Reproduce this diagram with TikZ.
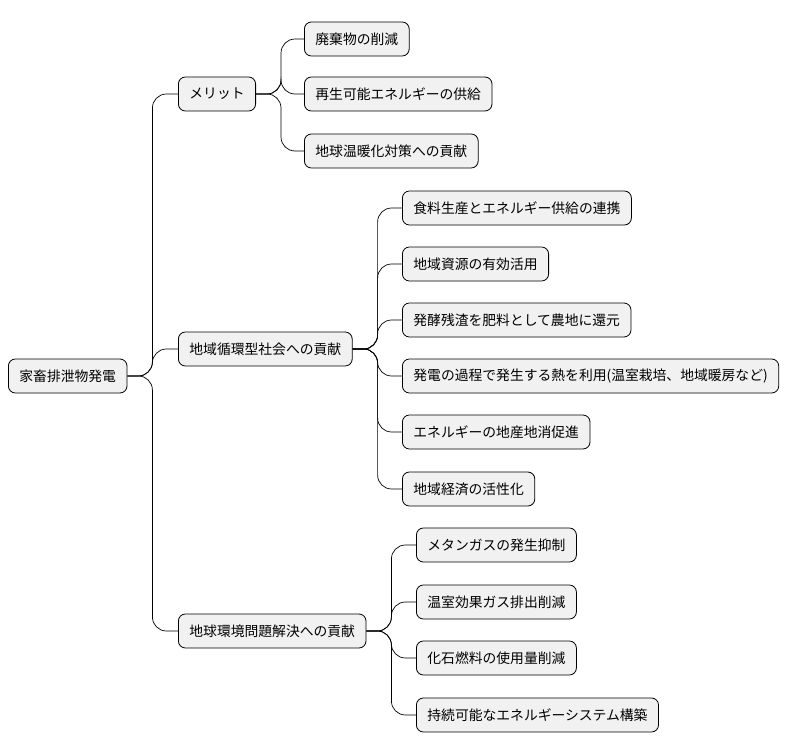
\documentclass[tikz,border=0pt]{standalone}
\usepackage{fontspec}
\setmainfont{Noto Sans CJK JP}
\usetikzlibrary{positioning}
\definecolor{boxfill}{HTML}{F1F1F1}
\tikzset{
  topic/.style={draw=black, fill=boxfill, rounded corners=7pt, line width=0.8pt,
    minimum height=34pt, inner xsep=11pt, anchor=west, font=\fontsize{13.8pt}{16pt}\selectfont},
  link/.style={draw=black, line width=0.7pt, rounded corners=14pt}
}
\begin{document}
\begin{tikzpicture}[x=1pt,y=-1pt]
\useasboundingbox (0,0) rectangle (793,752);

% root
\node[topic] (root) at (8,376) {家畜排泄物発電};

% level 1
\node[topic] (merit) at (178,94) {メリット};
\node[topic] (local) at (178,349) {地域循環型社会への貢献};
\node[topic] (env) at (178,631) {地球環境問題解決への貢献};

% merit
\node[topic] (m1) at (304,39) {廃棄物の削減};
\node[topic] (m2) at (304,94) {再生可能エネルギーの供給};
\node[topic] (m3) at (304,151) {地球温暖化対策への貢献};

% local
\node[topic] (l1) at (402,208) {食料生産とエネルギー供給の連携};
\node[topic] (l2) at (402,264) {地域資源の有効活用};
\node[topic] (l3) at (402,320) {発酵残渣を肥料として農地に還元};
\node[topic] (l4) at (402,376) {発電の過程で発生する熱を利用(温室栽培、地域暖房など)};
\node[topic] (l5) at (402,432) {エネルギーの地産地消促進};
\node[topic] (l6) at (402,489) {地域経済の活性化};

% env
\node[topic] (e1) at (416,545) {メタンガスの発生抑制};
\node[topic] (e2) at (416,602) {温室効果ガス排出削減};
\node[topic] (e3) at (416,658) {化石燃料の使用量削減};
\node[topic] (e4) at (416,715) {持続可能なエネルギーシステム構築};

\foreach \c in {merit,local,env}
  \draw[link] (root.east) -- ++(25,0) |- (\c.west);
\foreach \c in {m1,m2,m3}
  \draw[link] (merit.east) -- ++(25,0) |- (\c.west);
\foreach \c in {l1,l2,l3,l4,l5,l6}
  \draw[link] (local.east) -- ++(25,0) |- (\c.west);
\foreach \c in {e1,e2,e3,e4}
  \draw[link] (env.east) -- ++(25,0) |- (\c.west);
\end{tikzpicture}
\end{document}
